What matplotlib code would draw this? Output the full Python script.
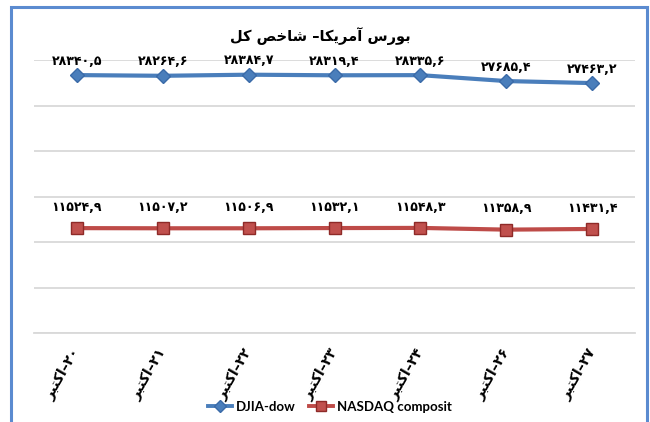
import matplotlib
matplotlib.use("Agg")
import matplotlib.pyplot as plt
from matplotlib.patches import Rectangle
from matplotlib.lines import Line2D

# ---------------- data ----------------
title_text = "بورس آمریکا– شاخص کل"
categories = ["۲۰–اکتبر", "۲۱–اکتبر", "۲۲–اکتبر", "۲۳–اکتبر",
              "۲۴–اکتبر", "۲۶–اکتبر", "۲۷–اکتبر"]
djia = [28340.5, 28264.6, 28384.7, 28319.4, 28335.6, 27685.4, 27463.2]
nasdaq = [11524.9, 11507.2, 11506.9, 11532.1, 11548.3, 11358.9, 11431.4]
series_names = ["DJIA-dow", "NASDAQ composit"]
y_min, y_max, y_step = 0, 30000, 5000

# ---------------- minimal Arabic/Persian shaping for display ----------------
# forms: (isolated, final, initial, medial); None for right-joining letters
FORMS = {
    "ا": ("\uFE8D", "\uFE8E", None, None),
    "آ": ("\uFE81", "\uFE82", None, None),
    "ب": ("\uFE8F", "\uFE90", "\uFE91", "\uFE92"),
    "ت": ("\uFE95", "\uFE96", "\uFE97", "\uFE98"),
    "خ": ("\uFEA5", "\uFEA6", "\uFEA7", "\uFEA8"),
    "ر": ("\uFEAD", "\uFEAE", None, None),
    "س": ("\uFEB1", "\uFEB2", "\uFEB3", "\uFEB4"),
    "ش": ("\uFEB5", "\uFEB6", "\uFEB7", "\uFEB8"),
    "ص": ("\uFEB9", "\uFEBA", "\uFEBB", "\uFEBC"),
    "ل": ("\uFEDD", "\uFEDE", "\uFEDF", "\uFEE0"),
    "م": ("\uFEE1", "\uFEE2", "\uFEE3", "\uFEE4"),
    "و": ("\uFEED", "\uFEEE", None, None),
    "ک": ("\uFB8E", "\uFB8F", "\uFB90", "\uFB91"),
    "ی": ("\uFBFC", "\uFBFD", "\uFBFE", "\uFBFF"),
}
DIGITS = set("۰۱۲۳۴۵۶۷۸۹0123456789,.")


def shape(s):
    out = []
    for i, ch in enumerate(s):
        if ch not in FORMS:
            out.append(ch)
            continue
        iso, fin, ini, med = FORMS[ch]
        prev = s[i - 1] if i > 0 else ""
        nxt = s[i + 1] if i + 1 < len(s) else ""
        join_prev = prev in FORMS and FORMS[prev][2] is not None
        join_next = ini is not None and nxt in FORMS
        if join_prev and join_next:
            out.append(med)
        elif join_prev:
            out.append(fin)
        elif join_next:
            out.append(ini)
        else:
            out.append(iso)
    return "".join(out)


def rtl(s):
    shaped = shape(s)
    runs, cur, cur_digit = [], "", None
    for ch in shaped:
        d = ch in DIGITS
        if cur and d != cur_digit:
            runs.append((cur, cur_digit))
            cur = ""
        cur += ch
        cur_digit = d
    if cur:
        runs.append((cur, cur_digit))
    vis = [r if d else r[::-1] for r, d in reversed(runs)]
    return "".join(vis)


def fa_num(v):
    s = f"{v:.1f}".replace(".", ",")
    return s.translate(str.maketrans("0123456789", "۰۱۲۳۴۵۶۷۸۹"))


# ---------------- figure ----------------
W, H = 650, 422
fig = plt.figure(figsize=(W / 100, H / 100), dpi=100)
fig.patch.set_facecolor("white")

# outer chart frame
fig.patches.append(Rectangle((11 / W, -0.05), (647 - 11) / W, 1.05 - 7 / H,
                             transform=fig.transFigure, fill=False,
                             edgecolor="#5B8BD0", linewidth=2.2))

ax = fig.add_axes([34 / W, 1 - 333 / H, (635 - 34) / W, (333 - 60) / H])
x = list(range(len(categories)))

ax.plot(x, djia, color="#4A7EBB", lw=3.0, marker="D", markersize=7,
        markerfacecolor="#4A7EBB", markeredgecolor="#3A6AA8", zorder=3,
        label=series_names[0])
ax.plot(x, nasdaq, color="#BE4B48", lw=3.0, marker="s", markersize=8,
        markerfacecolor="#C0504D", markeredgecolor="#8E2A28", zorder=3,
        label=series_names[1])

ax.set_xlim(-0.5, len(categories) - 0.5)
ax.set_ylim(y_min, y_max)
ax.set_yticks(range(y_min, y_max + 1, y_step))
ax.yaxis.grid(True, color="#D9D9D9", lw=1.3)
ax.set_axisbelow(True)
ax.tick_params(axis="y", left=False, labelleft=False)
for sp in ["left", "right", "top"]:
    ax.spines[sp].set_visible(False)
ax.spines["bottom"].set_color("#D9D9D9")
ax.spines["bottom"].set_linewidth(1.3)

ax.set_xticks(x)
ax.set_xticklabels([rtl(c) for c in categories], rotation=60,
                   ha="right", va="center", rotation_mode="anchor",
                   fontsize=10, fontweight="bold", family="DejaVu Sans")
ax.tick_params(axis="x", length=0, pad=12)

# data labels
for xi, v in zip(x, djia):
    ax.annotate(fa_num(v), (xi, v), xytext=(0, 10), textcoords="offset points",
                ha="center", va="center", fontsize=9, fontweight="bold",
                family="DejaVu Sans", zorder=4)
for xi, v in zip(x, nasdaq):
    ax.annotate(fa_num(v), (xi, v), xytext=(0, 15), textcoords="offset points",
                ha="center", va="center", fontsize=9, fontweight="bold",
                family="DejaVu Sans", zorder=4)

fig.text(320 / W, 1 - 36 / H, rtl(title_text), ha="center", va="center",
         fontsize=10.5, fontweight="bold", family="DejaVu Sans")

handles = [Line2D([], [], color="#4A7EBB", lw=2.8, marker="D", markersize=6,
                  markerfacecolor="#4A7EBB", markeredgecolor="#3A6AA8"),
           Line2D([], [], color="#BE4B48", lw=2.8, marker="s", markersize=7,
                  markerfacecolor="#C0504D", markeredgecolor="#8E2A28")]
fig.legend(handles, series_names, loc="center", bbox_to_anchor=(330 / W, 1 - 407 / H),
           ncol=2, frameon=False, handlelength=1.8, handletextpad=0.3,
           columnspacing=1.0, prop={"family": "Lato", "weight": "bold", "size": 9.5})

fig.savefig("out.png", dpi=100)
